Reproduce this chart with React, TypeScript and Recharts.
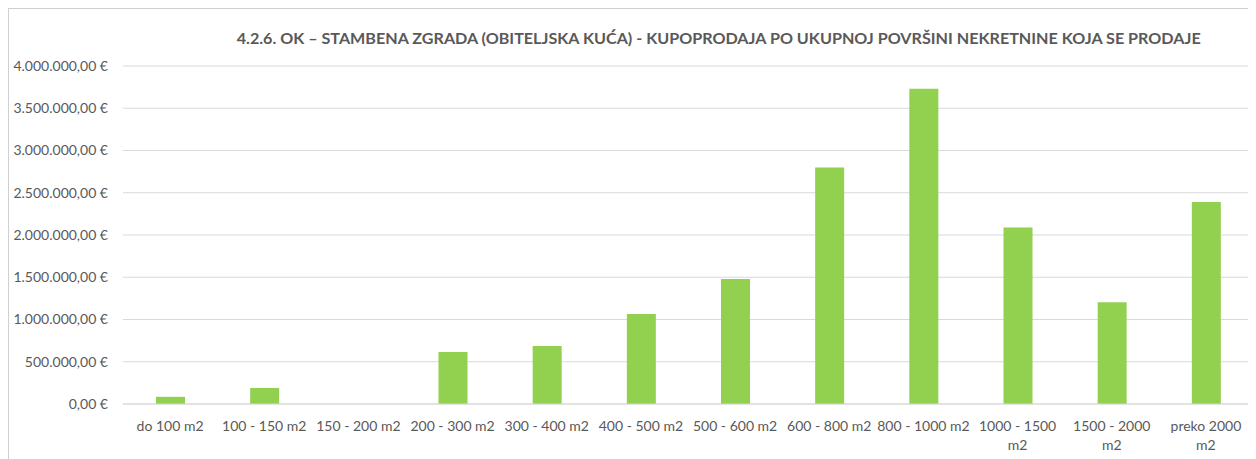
import React from 'react';
import {
  BarChart,
  Bar,
  XAxis,
  YAxis,
  CartesianGrid,
} from 'recharts';

const TITLE =
  '4.2.6. OK – STAMBENA ZGRADA (OBITELJSKA KUĆA) - KUPOPRODAJA PO UKUPNOJ POVRŠINI NEKRETNINE KOJA SE PRODAJE';

const categories = [
  'do 100 m2',
  '100 - 150 m2',
  '150 - 200 m2',
  '200 - 300 m2',
  '300 - 400 m2',
  '400 - 500 m2',
  '500 - 600 m2',
  '600 - 800 m2',
  '800 - 1000 m2',
  '1000 - 1500 m2',
  '1500 - 2000 m2',
  'preko 2000 m2',
];

// labels that Excel wrapped onto two lines
const wrappedLabels = ['1000 - 1500 m2', '1500 - 2000 m2', 'preko 2000 m2'];

const values = [
  85000, 190000, 0, 615000, 686000, 1065000, 1480000, 2800000, 3730000, 2090000, 1205000, 2390000,
];

const yTicks = [0, 500000, 1000000, 1500000, 2000000, 2500000, 3000000, 3500000, 4000000];

const data = categories.map((name, i) => ({ name, value: values[i] }));

const FONT = 'Lato, "Open Sans", sans-serif';
const GREY = '#595959';

function formatEuro(v: number) {
  const whole = Math.floor(v)
    .toString()
    .replace(/\B(?=(\d{3})+(?!\d))/g, '.');
  return `${whole},00 €`;
}

function CategoryTick({ x, y, payload }: { x?: number; y?: number; payload?: { value: string } }) {
  const label = payload?.value ?? '';
  let lines = [label];
  if (wrappedLabels.includes(label)) {
    const cut = label.lastIndexOf(' ');
    lines = [label.slice(0, cut), label.slice(cut + 1)];
  }
  return (
    <text
      x={x}
      y={y}
      textAnchor="middle"
      fill={GREY}
      fontSize={14}
      fontFamily={FONT}
    >
      {lines.map((line, i) => (
        <tspan key={i} x={x} dy={i === 0 ? '0.95em' : 19}>
          {line}
        </tspan>
      ))}
    </text>
  );
}

export default function App() {
  return (
    <div
      style={{
        position: 'relative',
        boxSizing: 'border-box',
        width: 1247,
        height: 470,
        border: '1px solid #d0d0d0',
        background: '#fff',
      }}
    >
      <svg
        width={1245}
        height={50}
        style={{ position: 'absolute', left: 0, top: 0 }}
      >
        <text
          x={709.7}
          y={34.5}
          textAnchor="middle"
          fontFamily={FONT}
          fontWeight="bold"
          fontSize={16}
          fill={GREY}
          textLength={964}
          lengthAdjust="spacingAndGlyphs"
        >
          {TITLE}
        </text>
      </svg>
      <BarChart
        width={1244}
        height={459}
        data={data}
        margin={{ top: 57, right: 0, left: 0, bottom: 0 }}
      >
        <CartesianGrid vertical={false} stroke="#d9d9d9" strokeWidth={1} />
        <XAxis
          dataKey="name"
          axisLine={{ stroke: '#d9d9d9' }}
          tickLine={false}
          tickSize={0}
          tickMargin={14}
          height={64}
          interval={0}
          tick={<CategoryTick />}
        />
        <YAxis
          width={114}
          domain={[0, 4000000]}
          ticks={yTicks}
          axisLine={false}
          tickLine={false}
          tickSize={0}
          tickMargin={15}
          tickFormatter={formatEuro}
          tick={{ fill: GREY, fontSize: 14, fontFamily: FONT }}
        />
        <Bar dataKey="value" fill="#92d050" barSize={29} isAnimationActive={false} />
      </BarChart>
    </div>
  );
}
